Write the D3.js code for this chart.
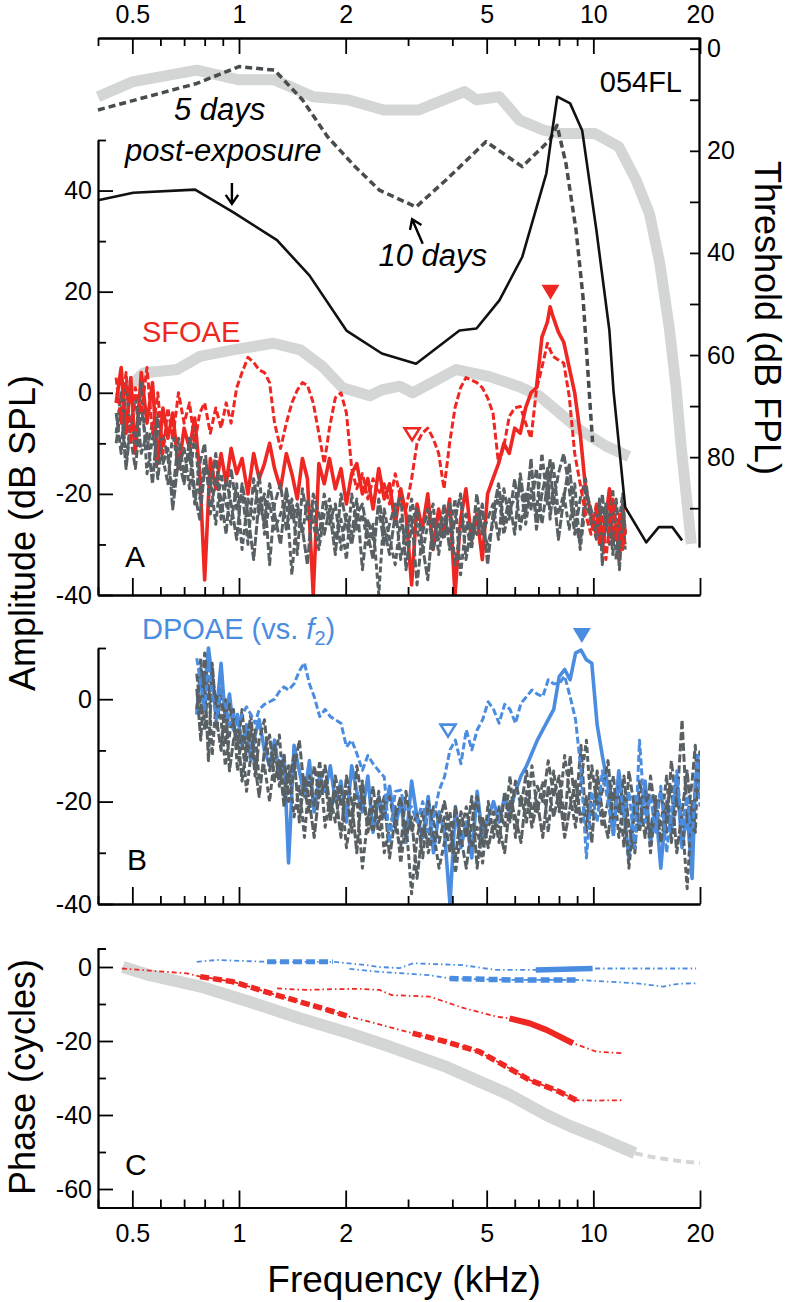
<!DOCTYPE html>
<html>
<head>
<meta charset="utf-8">
<script src="https://cdn.jsdelivr.net/npm/d3@7"></script>
<style>
  body { margin: 0; background: #fff; }
  svg { display: block; font-family: 'Liberation Sans', Arial, Helvetica, sans-serif; }
</style>
</head>
<body>
<script>
// ---- data (frequency in kHz) ----
// hearing thresholds, dB FPL (right axis of panel A)
const thrBaseline = [[0.4,9.4],[0.5,6.5],[0.76,4.2],[1.0,6.1],[1.26,6.1],[1.62,9.4],[2.03,10],[2.56,12],[3.21,12],[3.66,10.4],[4.33,8.4],[4.68,10],[5.43,9.4],[6.19,14],[7.27,16],[8.07,16.6],[10.1,16.6],[11.8,19.2],[13.2,25.7],[14.4,32.3],[15.4,42],[16.4,55],[17.1,66],[17.7,78],[18.9,97]];
const thr5days = [[0.4,29.7],[0.503,28.2],[0.752,27.6],[0.962,32],[1.28,37.5],[1.58,44.4],[2.01,55.2],[2.53,59.7],[3.16,61.7],[4.19,55.2],[4.68,54.8],[5.43,49.3],[6.3,40.8],[7.37,24.4],[7.66,16],[7.91,9.4],[8.6,10.7],[9.3,16],[10.2,35.5],[11.1,55.2],[11.4,67],[12.3,89.8],[14.1,96.7],[15.3,93.7],[16.7,93.7],[17.8,96.3]];
const thr10days = [[0.4,12],[0.76,6.8],[1.0,3.5],[1.26,4.2],[1.51,10],[1.78,17.3],[2.12,23],[2.49,27.7],[3.16,31],[3.84,25.7],[4.98,18.2],[6.3,23.1],[7.53,17.9],[7.9,15],[8.37,22.5],[8.94,35.6],[9.35,48.6],[9.62,61.7],[9.95,77]];

// baseline SFOAE level (thick grey), dB SPL
const sfBaseline = [[0.456,-1],[0.537,3.9],[0.669,4.6],[0.776,7.2],[0.962,8.5],[1.25,9.8],[1.49,8.5],[1.72,5.2],[1.96,1],[2.34,-0.6],[2.54,0.6],[2.84,1.3],[3.09,0],[4.1,4.6],[5.09,3.2],[6.19,1.2],[7.05,-0.7],[7.85,-3.4],[9.13,-7.3],[10.9,-10.6],[12.6,-12.6]];

// panel A frequency grid and spectra
const freqA = [0.45,0.465,0.48,0.495,0.51,0.53,0.55,0.57,0.59,0.61,
  0.63,0.65,0.675,0.70,0.725,0.75,0.775,0.80,0.83,0.86,
  0.89,0.92,0.95,0.985,1.02,1.06,1.10,1.14,1.18,1.22,
  1.26,1.31,1.36,1.41,1.46,1.51,1.56,1.62,1.68,1.74,
  1.80,1.87,1.94,2.01,2.08,2.15,2.23,2.31,2.39,2.48,
  2.57,2.66,2.76,2.86,2.96,3.07,3.18,3.29,3.41,3.53,
  3.66,3.79,3.93,4.07,4.22,4.37,4.53,4.69,4.86,5.03,
  5.21,5.40,5.59,5.79,6.00,6.22,6.44,6.67,6.91,7.16,
  7.42,7.55,7.70,7.97,8.25,8.55,8.86,9.18,9.51,9.85,
  10.2,10.4,10.6,10.85,11.1,11.35,11.6,11.85,12.1,12.3];
const sfoae5 = [-2,5,-8,3,-12,4,-6,2,-14,-3,
  -9,-4,-15,-7,-11,-5,-16,-37,-13,-19,
  -12,-18,-11,-16,-13,-20,-12,-17,-14,-10,
  -15,-19,-12,-16,-21,-13,-17,-40,-14,-18,
  -13,-19,-15,-22,-16,-14,-20,-17,-23,-15,
  -21,-18,-26,-19,-24,-38,-22,-27,-20,-31,
  -23,-28,-21,-40,-25,-19,-29,-24,-33,-20,
  -17,-14,-10,-12,-7,-8,-3,0,1,11,
  14,17,15,12,10,5,0,-8,-19,-24,
  -28,-22,-31,-25,-19,-30,-26,-33,-22,-28];
const sfoae10 = [3,-6,4,-10,1,-4,5,-8,0,-12,
  -3,-9,0,-6,-2,-10,-4,-2,-8,-3,
  -7,-2,-6,1,4,7,6,4.5,4,2,
  -6,-11,-6,-2,0.5,2,1.5,-2,-8,-14,
  -7,-1,0,-4,-15,-19,-16,-21,-17,-20,
  -18,-22,-16,-21,-23,-17,-10,-8,-7,-9,
  -12,-19,-10,-3,1,3,2.5,2,1,-1,
  -4,-14,-10.6,-4.7,-3,-2.7,-6,-9,0.6,5,
  9.8,8.5,7.2,6.5,5.9,-0.7,-12,-18,-24,-28,
  -22,-30,-24,-33,-26,-21,-29,-24,-31,-27];
const noiseA1 = [-4,-12,2,-9,-15,-3,-11,-6,-17,-8,
  -13,-20,-9,-16,-12,-22,-14,-10,-24,-17,
  -21,-28,-15,-23,-19,-30,-17,-24,-20,-34,
  -22,-18,-27,-21,-32,-19,-25,-23,-29,-20,
  -26,-22,-31,-24,-28,-21,-35,-25,-29,-23,
  -30,-26,-22,-33,-27,-24,-38,-28,-23,-31,
  -26,-29,-22,-34,-27,-24,-30,-20,-28,-25,
  -22,-29,-19,-25,-17,-27,-20,-23,-15,-26,
  -18,-13,-22,-16,-12,-19,-28,-21,-17,-26,
  -23,-30,-20,-27,-24,-32,-21,-28,-25,-30];
const noiseA2 = [-8,0,-14,-5,-10,2,-16,-9,-4,-13,
  -18,-8,-15,-11,-19,-7,-21,-13,-17,-26,
  -16,-22,-26,-18,-31,-21,-25,-16,-28,-22,
  -27,-24,-20,-36,-23,-28,-21,-26,-31,-24,
  -21,-29,-25,-33,-20,-27,-24,-30,-26,-40,
  -23,-29,-34,-25,-30,-21,-27,-32,-26,-22,
  -32,-25,-28,-21,-36,-26,-31,-23,-27,-30,
  -26,-20,-28,-23,-21,-18,-26,-19,-24,-12,
  -22,-17,-14,-24,-20,-27,-18,-31,-22,-25,
  -29,-24,-31,-22,-27,-19,-33,-25,-20,-28];
const noiseA3 = [-10,-3,-15,-6,-1,-12,-8,-18,-5,-14,
  -11,-23,-13,-18,-9,-20,-25,-15,-19,-12,
  -25,-17,-22,-29,-18,-24,-33,-21,-26,-18,
  -24,-30,-19,-25,-22,-27,-34,-20,-24,-28,
  -23,-32,-20,-26,-30,-24,-22,-28,-33,-21,
  -27,-32,-24,-20,-35,-26,-23,-30,-37,-25,
  -29,-22,-31,-25,-20,-33,-26,-28,-22,-34,
  -24,-18,-26,-21,-28,-16,-24,-13,-27,-20,
  -15,-25,-19,-29,-21,-14,-25,-30,-19,-23,
  -27,-21,-34,-24,-30,-22,-26,-35,-23,-31];

// panel B frequency grid (f2) and spectra
const freqB = [0.76,0.78,0.80,0.82,0.84,0.865,0.89,0.915,0.94,0.965,
  0.99,1.02,1.05,1.08,1.11,1.14,1.18,1.22,1.26,1.30,
  1.34,1.38,1.43,1.48,1.53,1.58,1.63,1.69,1.75,1.81,
  1.87,1.94,2.01,2.08,2.15,2.23,2.31,2.39,2.48,2.57,
  2.66,2.76,2.86,2.96,3.07,3.18,3.30,3.42,3.54,3.67,
  3.80,3.94,4.08,4.23,4.38,4.54,4.70,4.87,5.05,5.23,
  5.42,5.62,5.82,6.03,6.25,6.48,6.71,6.95,7.20,7.46,
  7.73,8.01,8.30,8.60,8.91,9.23,9.56,9.90,10.25,10.6,
  11.0,11.4,11.8,12.2,12.6,13.1,13.5,14.0,14.5,15.0,
  15.5,16.1,16.6,17.2,17.8,18.4,19.0,19.4,19.7,20.0];
const dpoae5 = [-3,6,2,10,4,-2,7,-4,1,-6,
  -3,-9,-5,-12,-7,-4,-10,-13,-8,-15,
  -11,-32,-9,-14,-19,-12,-22,-15,-18,-13,
  -20,-16,-24,-13,-18,-22,-15,-26,-19,-23,
  -17,-25,-20,-28,-16,-23,-27,-19,-30,-22,
  -26,-40,-21,-29,-24,-31,-18,-27,-23,-20,
  -24,-19,-22,-18,-15,-13,-10.5,-8,-6,-4,
  -2,4.4,5.8,3.8,9,9.6,7.7,7,-5,-11,
  -17,-26,-14,-22,-31,-19,-25,-16,-28,-21,
  -33,-20,-26,-15,-29,-22,-35,-17,-12,-14];
const dpoae10 = [8,3,-2,7,1,-4,2,-1,-5,-3,
  -5,-3,-1.5,-3,-4.7,-2,-1,-0.5,0,1.5,
  2.4,1.8,3,5.5,7.1,3,0.5,-3.4,-2,-3.4,
  -4,-4.7,-9.3,-8,-10.6,-13.9,-11,-12.6,-14,-15.2,
  -28,-18,-17.8,-22,-21,-24,-20,-26,-23,-17.8,
  -15.2,-9.9,-8,-12.6,-6,-9.9,-6,-4,-0.5,-2,
  -4.7,-1,-2,-4.7,-0.8,0.5,1.8,1,0.5,3.8,
  3,3,4.5,0.5,-4,-14,-31,-18,-24,-14,
  -20,-27,-15,-23,-18,-29,-8,-24,-19,-26,
  -17,-30,-22,-14,-25,-19,-28,-16,-11,-21];
const noiseB1 = [5,-3,9,0,6,-6,2,-9,-1,-5,
  -10,-2,-12,-6,-15,-8,-4,-14,-9,-17,
  -11,-20,-14,-8,-18,-22,-13,-19,-16,-24,
  -15,-21,-18,-26,-13,-20,-24,-17,-27,-21,
  -19,-25,-29,-18,-26,-22,-31,-20,-24,-28,
  -23,-30,-21,-27,-33,-24,-19,-29,-25,-22,
  -28,-18,-24,-16,-21,-14,-23,-17,-20,-12,
  -19,-15,-24,-11,-22,-9,-26,-13,-21,-18,
  -12,-24,-17,-29,-14,-22,-19,-27,-15,-23,
  -18,-26,-12,-21,-4,-24,-16,-9,-19,-13];
const noiseB2 = [-2,8,-6,4,-11,1,-4,-13,-7,-2,
  -14,-7,-18,-11,-6,-16,-13,-20,-11,-7,
  -19,-13,-23,-17,-27,-15,-21,-12,-25,-19,
  -24,-17,-29,-22,-19,-33,-23,-26,-18,-30,
  -25,-21,-32,-24,-38,-27,-22,-30,-26,-33,
  -28,-22,-34,-26,-21,-29,-25,-32,-20,-27,
  -21,-25,-15,-27,-19,-24,-13,-22,-16,-26,
  -14,-22,-11,-19,-25,-16,-8,-23,-17,-25,
  -20,-15,-27,-19,-33,-21,-26,-18,-30,-20,
  -25,-15,-28,-20,-23,-37,-20,-26,-14,-10];
const noiseB3 = [2,-8,4,-12,7,-4,-10,0,-14,-8,
  -6,-16,-9,-3,-13,-19,-10,-7,-16,-12,
  -21,-16,-11,-24,-15,-20,-27,-17,-13,-22,
  -18,-27,-15,-20,-30,-16,-26,-21,-24,-19,
  -31,-23,-19,-27,-23,-35,-25,-28,-21,-24,
  -20,-26,-31,-22,-27,-19,-33,-23,-29,-24,
  -25,-30,-20,-23,-28,-18,-25,-20,-27,-17,
  -23,-18,-27,-21,-16,-24,-19,-28,-14,-22,
  -27,-18,-22,-15,-25,-30,-16,-22,-26,-19,
  -28,-21,-17,-30,-22,-14,-26,-18,-11,-17];

// panel C phases, cycles
const phaseRef = [[0.47,0],[0.56,-2.2],[0.78,-5.3],[1.07,-9.4],[1.49,-13.9],[2.05,-17.9],[2.66,-21.5],[3.85,-27],[5.8,-34.5],[7.37,-40],[8.6,-43],[10,-45.5],[11.5,-48],[13.1,-50.3]];
const phaseRefExt = [[13.1,-50.3],[14.5,-51.3],[17,-52.3],[20,-53]];
const phaseSf5 = [[1.28,-5.8],[1.55,-6.2],[1.84,-6],[2.2,-5.9],[2.49,-6.2],[2.7,-7.6],[3.45,-8],[4.27,-11],[5.32,-13.4],[5.8,-13.9],[6.6,-15.2],[7.37,-17],[8.76,-20.6],[10.2,-22.9],[12.1,-23.3]];
const phaseSf10 = [[0.467,-0.4],[0.561,-1],[0.712,-1.7],[0.777,-2.6],[0.963,-4],[1.277,-7.6],[1.655,-10.7],[2.05,-13.4],[2.49,-15.5],[2.84,-17],[3.09,-17.9],[3.84,-20.2],[4.77,-22.9],[5.68,-26.9],[6.6,-30.5],[8.02,-33.7],[8.95,-36],[10.2,-36.1],[12.1,-36]];
const phaseDp5 = [[0.76,1.4],[0.87,1.9],[1.2,1.4],[1.84,1.4],[2.29,0.5],[2.49,0],[2.84,-0.3],[3.1,1],[4.28,0.5],[5.32,-0.8],[6.88,-0.8],[9.95,-0.4],[12.6,-0.4],[19.5,-0.4]];
const phaseDp10 = [[2.05,-0.5],[2.49,-1.3],[3.45,-2.2],[3.93,-3.1],[5.9,-3.5],[8.95,-3.5],[11.3,-4],[13.5,-4.5],[15.7,-5.3],[17.5,-4.5],[19.5,-4.4]];

// tick values
const freqMajor = [0.5, 1, 2, 5, 10, 20];
const freqMinor = [0.4, 0.6, 0.7, 0.8, 0.9, 3, 4, 6, 7, 8, 9];

const RED = '#ee2722', BLUE = '#4a8de0', NOISE = '#596064', LIGHT = '#d3d6d5';

// ---- canvas and scales ----
const svg = d3.select('body').append('svg').attr('width', 789).attr('height', 1302);
const x = d3.scaleLog().domain([0.4, 20]).range([98, 700]);
const yA = d3.scaleLinear().domain([-40, 50]).range([595, 140]);
const yT = d3.scaleLinear().domain([-2.1, 97.6]).range([38, 547]);
const yB = d3.scaleLinear().domain([-40, 10]).range([904, 648]);
const yC = d3.scaleLinear().domain([-65, 5]).range([1207.5, 948.5]);

const zip = (fs, vs) => fs.map((f, i) => [f, vs[i]]);
const within = (data, lo, hi) => data.filter(d => d[0] >= lo && d[0] <= hi);

const defs = svg.append('defs');
defs.append('clipPath').attr('id', 'clipA').append('rect').attr('x', 98).attr('y', 130).attr('width', 602).attr('height', 465);
defs.append('clipPath').attr('id', 'clipB').append('rect').attr('x', 98).attr('y', 640).attr('width', 602).attr('height', 264);

function line(g, data, yScale, color, w, dash) {
  return g.append('path').datum(data)
    .attr('d', d3.line().x(d => x(d[0])).y(d => yScale(d[1])))
    .attr('fill', 'none').attr('stroke', color).attr('stroke-width', w)
    .attr('stroke-dasharray', dash || null)
    .attr('stroke-linejoin', 'round');
}

// ---- panel A ----
const gA = svg.append('g');
line(gA, thrBaseline, yT, LIGHT, 11);
const gAc = gA.append('g').attr('clip-path', 'url(#clipA)');
line(gAc, sfBaseline, yA, LIGHT, 11);
line(gAc, zip(freqA, sfoae5), yA, RED, 3.6);
line(gAc, zip(freqA, noiseA1), yA, NOISE, 3, '8,3');
line(gAc, zip(freqA, noiseA2), yA, NOISE, 3, '6,3');
line(gAc, zip(freqA, noiseA3), yA, NOISE, 3, '9,2');
line(gAc, zip(freqA, sfoae10), yA, RED, 3, '7,3');
line(gA, thr10days, yT, '#474c4f', 3.5, '7,4');
line(gA, thr5days, yT, '#111', 2.6);

// ---- panel B ----
const gB = svg.append('g').attr('clip-path', 'url(#clipB)');
line(gB, zip(freqB, dpoae5), yB, BLUE, 3.6);
line(gB, zip(freqB, noiseB1), yB, NOISE, 3, '8,3');
line(gB, zip(freqB, noiseB2), yB, NOISE, 3, '6,3');
line(gB, zip(freqB, noiseB3), yB, NOISE, 3, '9,2');
line(gB, zip(freqB, dpoae10), yB, BLUE, 3, '7,3');

// ---- panel C ----
const gC = svg.append('g');
line(gC, phaseRef, yC, LIGHT, 12);
line(gC, phaseRefExt, yC, LIGHT, 4, '8,5');
const thin = '5,3,1.5,3';
line(gC, phaseDp5, yC, BLUE, 1.8, thin);
line(gC, within(phaseDp5, 1.17, 2.0), yC, BLUE, 5, '9,4');
line(gC, within(phaseDp5, 6.8, 10), yC, BLUE, 5.5);
line(gC, phaseDp10, yC, BLUE, 1.8, thin);
line(gC, within(phaseDp10, 3.9, 9), yC, BLUE, 5.5, '9,4');
line(gC, phaseSf5, yC, RED, 1.8, thin);
line(gC, within(phaseSf5, 5.7, 9), yC, RED, 6);
line(gC, phaseSf10, yC, RED, 1.8, thin);
line(gC, within(phaseSf10, 0.77, 2.06), yC, RED, 5.5, '9,4');
line(gC, within(phaseSf10, 3.0, 9.0), yC, RED, 5.5, '9,4');

// ---- OAE peak markers ----
const markers = [
  { f: 7.57, v: 18.4, y: yA, color: RED, filled: true },
  { f: 3.08, v: -9.7, y: yA, color: RED, filled: false },
  { f: 9.28, v: 11, y: yB, color: BLUE, filled: true },
  { f: 3.89, v: -7.6, y: yB, color: BLUE, filled: false }
];
svg.selectAll('.marker').data(markers).enter().append('path')
  .attr('class', 'marker')
  .attr('d', d => {
    const cx = x(d.f), ay = d.y(d.v);
    return d.filled
      ? `M${cx - 9},${ay - 15}L${cx + 9},${ay - 15}L${cx},${ay}Z`
      : `M${cx - 7.5},${ay - 13.5}L${cx + 7.5},${ay - 13.5}L${cx},${ay - 1.5}Z`;
  })
  .attr('fill', d => d.filled ? d.color : '#fff')
  .attr('stroke', d => d.color)
  .attr('stroke-width', d => d.filled ? 0 : 2.6);

// ---- axes ----
function styleAxis(g) {
  g.attr('font-family', null).attr('font-size', null);
  g.selectAll('path, line').attr('stroke', '#000').attr('stroke-width', 1.8);
  g.selectAll('text').attr('fill', '#000').style('font-size', '25px');
  return g;
}
function addAxis(gen, tx, ty) {
  return styleAxis(svg.append('g').attr('transform', `translate(${tx},${ty})`).call(gen));
}
const fmt = d => String(d);

// frequency axes
addAxis(d3.axisTop(x).tickValues(freqMinor).tickSizeInner(-8).tickSizeOuter(0).tickFormat(''), 0, 38);
addAxis(d3.axisTop(x).tickValues(freqMajor).tickSizeInner(-16).tickSizeOuter(0).tickPadding(15).tickFormat(fmt), 0, 38);
[595, 904].forEach(yy => {
  addAxis(d3.axisBottom(x).tickValues(freqMinor).tickSizeInner(-8).tickSizeOuter(0).tickFormat(''), 0, yy);
  addAxis(d3.axisBottom(x).tickValues(freqMajor).tickSizeInner(-17).tickSizeOuter(0).tickFormat(''), 0, yy);
});
addAxis(d3.axisBottom(x).tickValues(freqMinor).tickSizeInner(-8).tickSizeOuter(0).tickFormat(''), 0, 1207.5);
addAxis(d3.axisBottom(x).tickValues(freqMajor).tickSizeInner(-17).tickSizeOuter(0).tickPadding(17).tickFormat(fmt), 0, 1207.5);

// amplitude / phase axes
function leftAxis(scale, major, minor, outer) {
  addAxis(d3.axisLeft(scale).tickValues(minor).tickSizeInner(-8).tickSizeOuter(outer || 0).tickFormat(''), 98, 0);
  addAxis(d3.axisLeft(scale).tickValues(major).tickSizeInner(-15).tickSizeOuter(0).tickPadding(6).tickFormat(fmt), 98, 0);
}
leftAxis(yA, [-40, -20, 0, 20, 40], [-30, -10, 10, 30, 50]);
leftAxis(yB, [-40, -20, 0], [-30, -10, 10]);
leftAxis(yC, [-60, -40, -20, 0], [-50, -30, -10], -8);

// threshold axis
addAxis(d3.axisRight(yT).tickValues([10, 30, 50, 70, 90]).tickSizeInner(-9).tickSizeOuter(0).tickFormat(''), 699, 0);
addAxis(d3.axisRight(yT).tickValues([0, 20, 40, 60, 80]).tickSizeInner(-9).tickSizeOuter(0).tickPadding(8).tickFormat(fmt), 699, 0);

// ---- titles and labels ----
function label(txt, tx, ty, opts) {
  const t = svg.append('text').attr('transform', `translate(${tx},${ty})${opts.rot ? ` rotate(${opts.rot})` : ''}`)
    .attr('text-anchor', opts.anchor || 'start')
    .style('font-size', opts.size + 'px')
    .attr('fill', opts.color || '#000')
    .text(txt);
  if (opts.italic) t.style('font-style', 'italic');
  return t;
}
label('Amplitude (dB SPL)', 35, 533, { rot: -90, anchor: 'middle', size: 36 });
label('Phase (cycles)', 35, 1077, { rot: -90, anchor: 'middle', size: 36 });
label('Threshold (dB FPL)', 755, 318, { rot: 90, anchor: 'middle', size: 36 });
label('Frequency (kHz)', 404, 1292, { anchor: 'middle', size: 37 });

label('A', 125, 567, { size: 30 });
label('B', 127, 870, { size: 30 });
label('C', 125, 1175, { size: 30 });
label('054FL', 682, 92, { anchor: 'end', size: 29 });

label('5 days', 174, 120, { size: 31, italic: true });
label('post-exposure', 125, 161, { size: 31, italic: true });
label('10 days', 487, 266, { anchor: 'end', size: 31, italic: true });
label('SFOAE', 142, 342, { size: 29, color: RED });

const dp = label('DPOAE (vs. ', 142, 639, { size: 29, color: BLUE });
dp.append('tspan').style('font-style', 'italic').text('f');
dp.append('tspan').attr('dy', 6).style('font-size', '20px').text('2');
dp.append('tspan').attr('dy', -6).text(')');

// annotation arrows (threshold units)
const arrows = [
  { from: [0.955, 26.3], to: [0.955, 30.4] },
  { from: [3.3, 38.2], to: [3.08, 33.4] }
];
arrows.forEach(a => {
  const x1 = x(a.from[0]), y1 = yT(a.from[1]), x2 = x(a.to[0]), y2 = yT(a.to[1]);
  const ang = Math.atan2(y2 - y1, x2 - x1), L = 11, spread = 0.6;
  svg.append('path')
    .attr('d', `M${x1},${y1}L${x2},${y2}` +
      `M${x2 - L * Math.cos(ang - spread)},${y2 - L * Math.sin(ang - spread)}L${x2},${y2}` +
      `L${x2 - L * Math.cos(ang + spread)},${y2 - L * Math.sin(ang + spread)}`)
    .attr('fill', 'none').attr('stroke', '#000').attr('stroke-width', 2.4);
});
</script>
</body>
</html>
